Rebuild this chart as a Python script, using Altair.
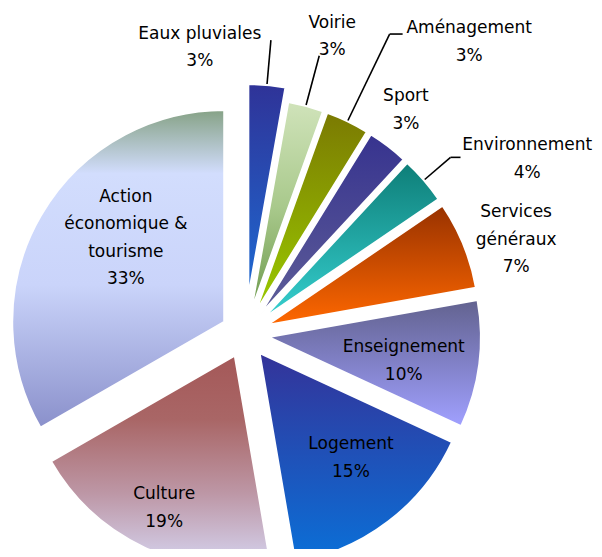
import altair as alt
import pandas as pd

# ---- data ----
CATEGORIES = [
    "Eaux pluviales", "Voirie", "Aménagement", "Sport", "Environnement",
    "Services\ngénéraux", "Enseignement", "Logement", "Culture",
    "Action\néconomique &\ntourisme",
]
SHARES = [2.8, 2.7, 3.3, 3.1, 3.6, 6.7, 9.7, 15.4, 19.4, 33.3]

# ---- styles ----
GRAD = [
    [("#2f3398", 0), ("#1e6ad2", 1)],
    [("#d0e3ba", 0), ("#a9c98c", 0.5), ("#6c994c", 1)],
    [("#7b7a02", 0), ("#9acb00", 1)],
    [("#37338f", 0), ("#5e5e98", 1)],
    [("#0e7e78", 0), ("#36d0d0", 1)],
    [("#983200", 0), ("#ff6800", 1)],
    [("#62628f", 0), ("#a0a0ff", 1)],
    [("#343399", 0), ("#0a70d8", 1)],
    [("#a45858", 0), ("#a96666", 0.3), ("#bd97a6", 0.65), ("#d6d6f2", 1)],
    [("#86a286", 0), ("#d2ddfd", 0.2), ("#cad4fa", 0.55), ("#8a90cb", 1)],
]
EXPLODE = [38, 24, 24, 24, 24, 24, 24, 24, 24, 24]
LABEL_RADIUS = [290, 310, 368, 276, 332, 287, 161, 163, 192, 153]
LABEL_SHIFT = [-14, 1.4, 11.8, -1.6, 8.9, 3.0, 2.2, -3.1, -0.3, 8.8]
LEADER = [45, 52, 97, 0, 35, 0, 0, 0, 0, 0]
ELBOW = [0, 0, 13, 0, 10, 0, 0, 0, 0, 0]

CX, CY, R = 237, 326, 212
FONT = "DejaVu Sans"
FONT_SIZE = 17
LINE_H = 27.5

df = pd.DataFrame({
    "idx": list(range(len(CATEGORIES))),
    "category": CATEGORIES,
    "value": SHARES,
    "explode": EXPLODE,
    "lr": LABEL_RADIUS,
    "shift": LABEL_SHIFT,
    "lead": LEADER,
    "elbow": ELBOW,
})

base = (
    alt.Chart(df)
    .transform_joinaggregate(total="sum(value)")
    .transform_window(cum="sum(value)", sort=[alt.SortField("idx")], frame=[None, 0])
    .transform_calculate(
        start="2*PI*(datum.cum - datum.value)/datum.total",
        end="2*PI*datum.cum/datum.total",
    )
    .transform_calculate(mid="(datum.start + datum.end)/2")
    .transform_calculate(
        px=f"{CX} + datum.explode*sin(datum.mid)",
        py=f"{CY} - datum.explode*cos(datum.mid)",
        la="datum.mid + datum.shift*PI/180",
        pct="format(datum.value/datum.total, '.0%')",
    )
    .transform_calculate(
        label="datum.category + '\\n' + datum.pct",
        ax0=f"datum.px + ({R}+1)*sin(datum.mid)",
        ay0=f"datum.py - ({R}+1)*cos(datum.mid)",
        ax1=f"datum.px + ({R}+datum.lead)*sin(datum.mid)",
        ay1=f"datum.py - ({R}+datum.lead)*cos(datum.mid)",
    )
    .transform_calculate(
        nlines="split(datum.label, '\\n').length",
    )
    .transform_calculate(
        lx=f"{CX} + datum.lr*sin(datum.la)",
        ly=f"{CY} - datum.lr*cos(datum.la) - (datum.nlines - 1)*{LINE_H}/2",
        ax2="datum.ax1 + datum.elbow",
    )
)

layers = []
for i in range(len(CATEGORIES)):
    grad = alt.Gradient(
        gradient="linear", x1=0, x2=0, y1=0, y2=1,
        stops=[alt.GradientStop(color=c, offset=o) for c, o in GRAD[i]],
    )
    layers.append(
        base.transform_filter(alt.datum.idx == i)
        .mark_arc(outerRadius=R, fill=grad, stroke="white", strokeWidth=2)
        .encode(
            theta=alt.Theta("start:Q", scale=None),
            theta2="end:Q",
            x=alt.X("px:Q", scale=None),
            y=alt.Y("py:Q", scale=None),
        )
    )

leaders = (
    base.transform_filter("datum.lead > 0")
    .mark_rule(color="black", strokeWidth=1.6)
    .encode(
        x=alt.X("ax0:Q", scale=None), y=alt.Y("ay0:Q", scale=None),
        x2="ax1:Q", y2="ay1:Q",
    )
)
elbows = (
    base.transform_filter("datum.elbow > 0")
    .mark_rule(color="black", strokeWidth=1.6)
    .encode(
        x=alt.X("ax1:Q", scale=None), y=alt.Y("ay1:Q", scale=None),
        x2="ax2:Q", y2="ay1:Q",
    )
)
labels = (
    base.mark_text(font=FONT, fontSize=FONT_SIZE, color="black", lineBreak="\n",
                   lineHeight=LINE_H, align="center", baseline="middle")
    .encode(
        x=alt.X("lx:Q", scale=None),
        y=alt.Y("ly:Q", scale=None),
        text="label:N",
    )
)

chart = (
    alt.layer(*layers, leaders, elbows, labels)
    .properties(width=586, height=541, padding=0,
                autosize=alt.AutoSizeParams(type="none"))
    .configure_view(stroke=None)
)

chart.save("out.html", embed_options={"renderer": "svg", "actions": False})
